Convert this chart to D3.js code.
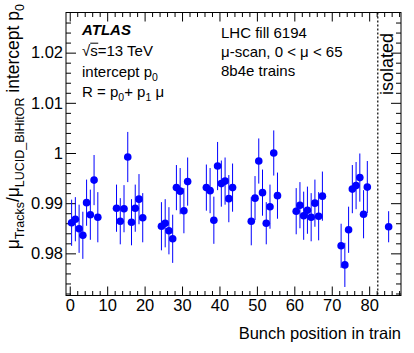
<!DOCTYPE html>
<html>
<head>
<meta charset="utf-8">
<script src="https://cdn.jsdelivr.net/npm/d3@7"></script>
<style>
body { margin: 0; background: #fff; }
svg { display: block; }
text { font-family: "Liberation Sans", Arial, Helvetica, sans-serif; fill: #000; }
</style>
</head>
<body>
<svg id="chart" width="414" height="353"></svg>
<script>
// ---- data ----
const bunchPositions = [
  0.5, 1.5, 2.5, 3.5, 4.5, 5.5, 6.5, 7.5,
  12.5, 13.5, 14.5, 15.5, 16.5, 17.5, 18.5, 19.5,
  24.5, 25.5, 26.5, 27.5, 28.5, 29.5, 30.5, 31.5,
  36.5, 37.5, 38.5, 39.5, 40.5, 41.5, 42.5, 43.5,
  48.5, 49.5, 50.5, 51.5, 52.5, 53.5, 54.5, 55.5,
  60.5, 61.5, 62.5, 63.5, 64.5, 65.5, 66.5, 67.5,
  72.5, 73.5, 74.5, 75.5, 76.5, 77.5, 78.5, 79.5,
  85.2
];
const interceptValues = [
  0.9861, 0.9868, 0.9849, 0.9836, 0.9901, 0.9877, 0.9946, 0.9872,
  0.9890, 0.9864, 0.9889, 0.9992, 0.9862, 0.9890, 0.9908, 0.9871,
  0.9854, 0.9860, 0.9845, 0.9829, 0.9931, 0.9924, 0.9885, 0.9943,
  0.9931, 0.9925, 0.9866, 0.9974, 0.9939, 0.9944, 0.9909, 0.9931,
  0.9864, 0.9910, 0.9984, 0.9921, 0.9860, 0.9893, 1.0000, 0.9915,
  0.9884, 0.9896, 0.9875, 0.9886, 0.9872, 0.9900, 0.9874, 0.9914,
  0.9815, 0.9777, 0.9847, 0.9928, 0.9935, 0.9951, 0.9878, 0.9932,
  0.9853
];
const interceptErrors = [
  0.0046, 0.0044, 0.0048, 0.0047, 0.0046, 0.0050, 0.0050, 0.0050,
  0.0047, 0.0046, 0.0047, 0.0050, 0.0046, 0.0047, 0.0050, 0.0049,
  0.0048, 0.0048, 0.0047, 0.0048, 0.0045, 0.0046, 0.0045, 0.0048,
  0.0046, 0.0045, 0.0047, 0.0048, 0.0046, 0.0047, 0.0047, 0.0048,
  0.0048, 0.0044, 0.0045, 0.0046, 0.0042, 0.0044, 0.0045, 0.0046,
  0.0046, 0.0046, 0.0048, 0.0047, 0.0048, 0.0047, 0.0048, 0.0049,
  0.0044, 0.0044, 0.0046, 0.0048, 0.0047, 0.0048, 0.0048, 0.0052,
  0.0031
];
const isolatedDivider = 82.3;
const xMajorTicks = [0, 10, 20, 30, 40, 50, 60, 70, 80];
const yMajorTicks = [0.98, 0.99, 1.00, 1.01, 1.02];
const xDomain = [-1, 88.5];
const yDomain = [0.9716, 1.028];

// ---- layout ----
const svg = d3.select("#chart");
const L = 66, R = 401, T = 12.5, B = 295.5;
const x = d3.scaleLinear().domain(xDomain).range([L, R]);
const y = d3.scaleLinear().domain(yDomain).range([B, T]);

const xMinor = d3.range(0, 89, 2).filter(v => v % 10 !== 0);
const yMinor = d3.range(0, 29).map(i => +(0.972 + i * 0.002).toFixed(3))
  .filter(v => v < yDomain[1] && Math.round(v * 1000) % 10 !== 0);

function style(g) {
  g.select(".domain").remove();
  g.selectAll("line").attr("stroke", "#000").attr("stroke-width", 1);
  g.selectAll("text").attr("font-size", "16.5px").attr("fill", "#000")
    .style("font-family", '"Liberation Sans", Arial, Helvetica, sans-serif');
}

// bottom
svg.append("g").attr("transform", `translate(0,${B})`)
  .call(d3.axisBottom(x).tickValues(xMajorTicks).tickSize(-9).tickPadding(4).tickFormat(d3.format("d")))
  .call(style);
svg.append("g").attr("transform", `translate(0,${B})`)
  .call(d3.axisBottom(x).tickValues(xMinor).tickSize(-4.5).tickFormat(""))
  .call(style);
// top
svg.append("g").attr("transform", `translate(0,${T})`)
  .call(d3.axisTop(x).tickValues(xMajorTicks).tickSize(-9).tickFormat(""))
  .call(style);
svg.append("g").attr("transform", `translate(0,${T})`)
  .call(d3.axisTop(x).tickValues(xMinor).tickSize(-4.5).tickFormat(""))
  .call(style);
// left
svg.append("g").attr("transform", `translate(${L},0)`)
  .call(d3.axisLeft(y).tickValues(yMajorTicks).tickSize(-10).tickPadding(3)
    .tickFormat(d => Math.abs(d - 1) < 1e-9 ? "1" : d.toFixed(2)))
  .call(style);
svg.append("g").attr("transform", `translate(${L},0)`)
  .call(d3.axisLeft(y).tickValues(yMinor).tickSize(-5).tickFormat(""))
  .call(style);
// right
svg.append("g").attr("transform", `translate(${R},0)`)
  .call(d3.axisRight(y).tickValues(yMajorTicks).tickSize(-10).tickFormat(""))
  .call(style);
svg.append("g").attr("transform", `translate(${R},0)`)
  .call(d3.axisRight(y).tickValues(yMinor).tickSize(-5).tickFormat(""))
  .call(style);

// frame
svg.append("rect").attr("x", L).attr("y", T).attr("width", R - L).attr("height", B - T)
  .attr("fill", "none").attr("stroke", "#000").attr("stroke-width", 1);

// isolated divider
svg.append("line")
  .attr("x1", x(isolatedDivider)).attr("x2", x(isolatedDivider))
  .attr("y1", T).attr("y2", B)
  .attr("stroke", "#000").attr("stroke-width", 1.2).attr("stroke-dasharray", "2,2");

svg.append("text")
  .attr("transform", `translate(393,95) rotate(-90)`)
  .attr("font-size", "18px")
  .text("isolated");

// data
const pts = bunchPositions.map((p, i) => ({ p, v: interceptValues[i], e: interceptErrors[i] }));
const g = svg.append("g");
g.selectAll("line.err").data(pts).join("line").attr("class", "err")
  .attr("x1", d => x(d.p)).attr("x2", d => x(d.p))
  .attr("y1", d => y(d.v - d.e)).attr("y2", d => y(d.v + d.e))
  .attr("stroke", "#0000ff").attr("stroke-width", 1);
g.selectAll("circle").data(pts).join("circle")
  .attr("cx", d => x(d.p)).attr("cy", d => y(d.v)).attr("r", 3.8)
  .attr("fill", "#0000ff");

// labels
svg.append("text").attr("x", 82).attr("y", 35)
  .attr("font-size", "15px").attr("font-weight", "bold").attr("font-style", "italic")
  .text("ATLAS");

const sq = svg.append("text").attr("x", 82).attr("y", 56).attr("font-size", "15px");
sq.append("tspan").text("√s=13 TeV");

const ic = svg.append("text").attr("x", 82).attr("y", 77).attr("font-size", "15px");
ic.append("tspan").text("intercept p");
ic.append("tspan").attr("font-size", "10.5px").attr("dy", 4).text("0");

const rr = svg.append("text").attr("x", 82).attr("y", 97).attr("font-size", "15px");
rr.append("tspan").text("R = p");
rr.append("tspan").attr("font-size", "10.5px").attr("dy", 4).text("0");
rr.append("tspan").attr("dy", -4).text("+ p");
rr.append("tspan").attr("font-size", "10.5px").attr("dy", 4).text("1");
rr.append("tspan").attr("dy", -4).text(" μ");

const rightLines = ["LHC fill 6194", "μ-scan, 0 < μ < 65", "8b4e trains"];
const rightY = [38, 57, 76];
rightLines.forEach((t, i) => {
  svg.append("text").attr("x", 221).attr("y", rightY[i]).attr("font-size", "15px").text(t);
});

// overline for sqrt
(function () {
  const node = sq.node();
  const sx = node.getStartPositionOfChar(1).x;
  const ex = node.getEndPositionOfChar(1).x;
  svg.append("line").attr("x1", sx).attr("x2", ex + 0.5).attr("y1", 43.2).attr("y2", 43.2)
    .attr("stroke", "#000").attr("stroke-width", 1);
})();

// axis titles
svg.append("text").attr("x", R).attr("y", 339).attr("text-anchor", "end")
  .attr("font-size", "16.5px").text("Bunch position in train");

const yt = svg.append("text").attr("transform", "translate(19,4) rotate(-90)")
  .attr("text-anchor", "end").attr("font-size", "17.5px");
yt.append("tspan").text("μ");
yt.append("tspan").attr("font-size", "12.5px").attr("dy", 5).text("Tracks");
yt.append("tspan").attr("dy", -5).text("/μ");
yt.append("tspan").attr("font-size", "12.5px").attr("dy", 5).text("LUCID_BiHitOR");
yt.append("tspan").attr("dy", -5).text(" intercept p");
yt.append("tspan").attr("font-size", "12.5px").attr("dy", 5).text("0");
</script>
</body>
</html>
